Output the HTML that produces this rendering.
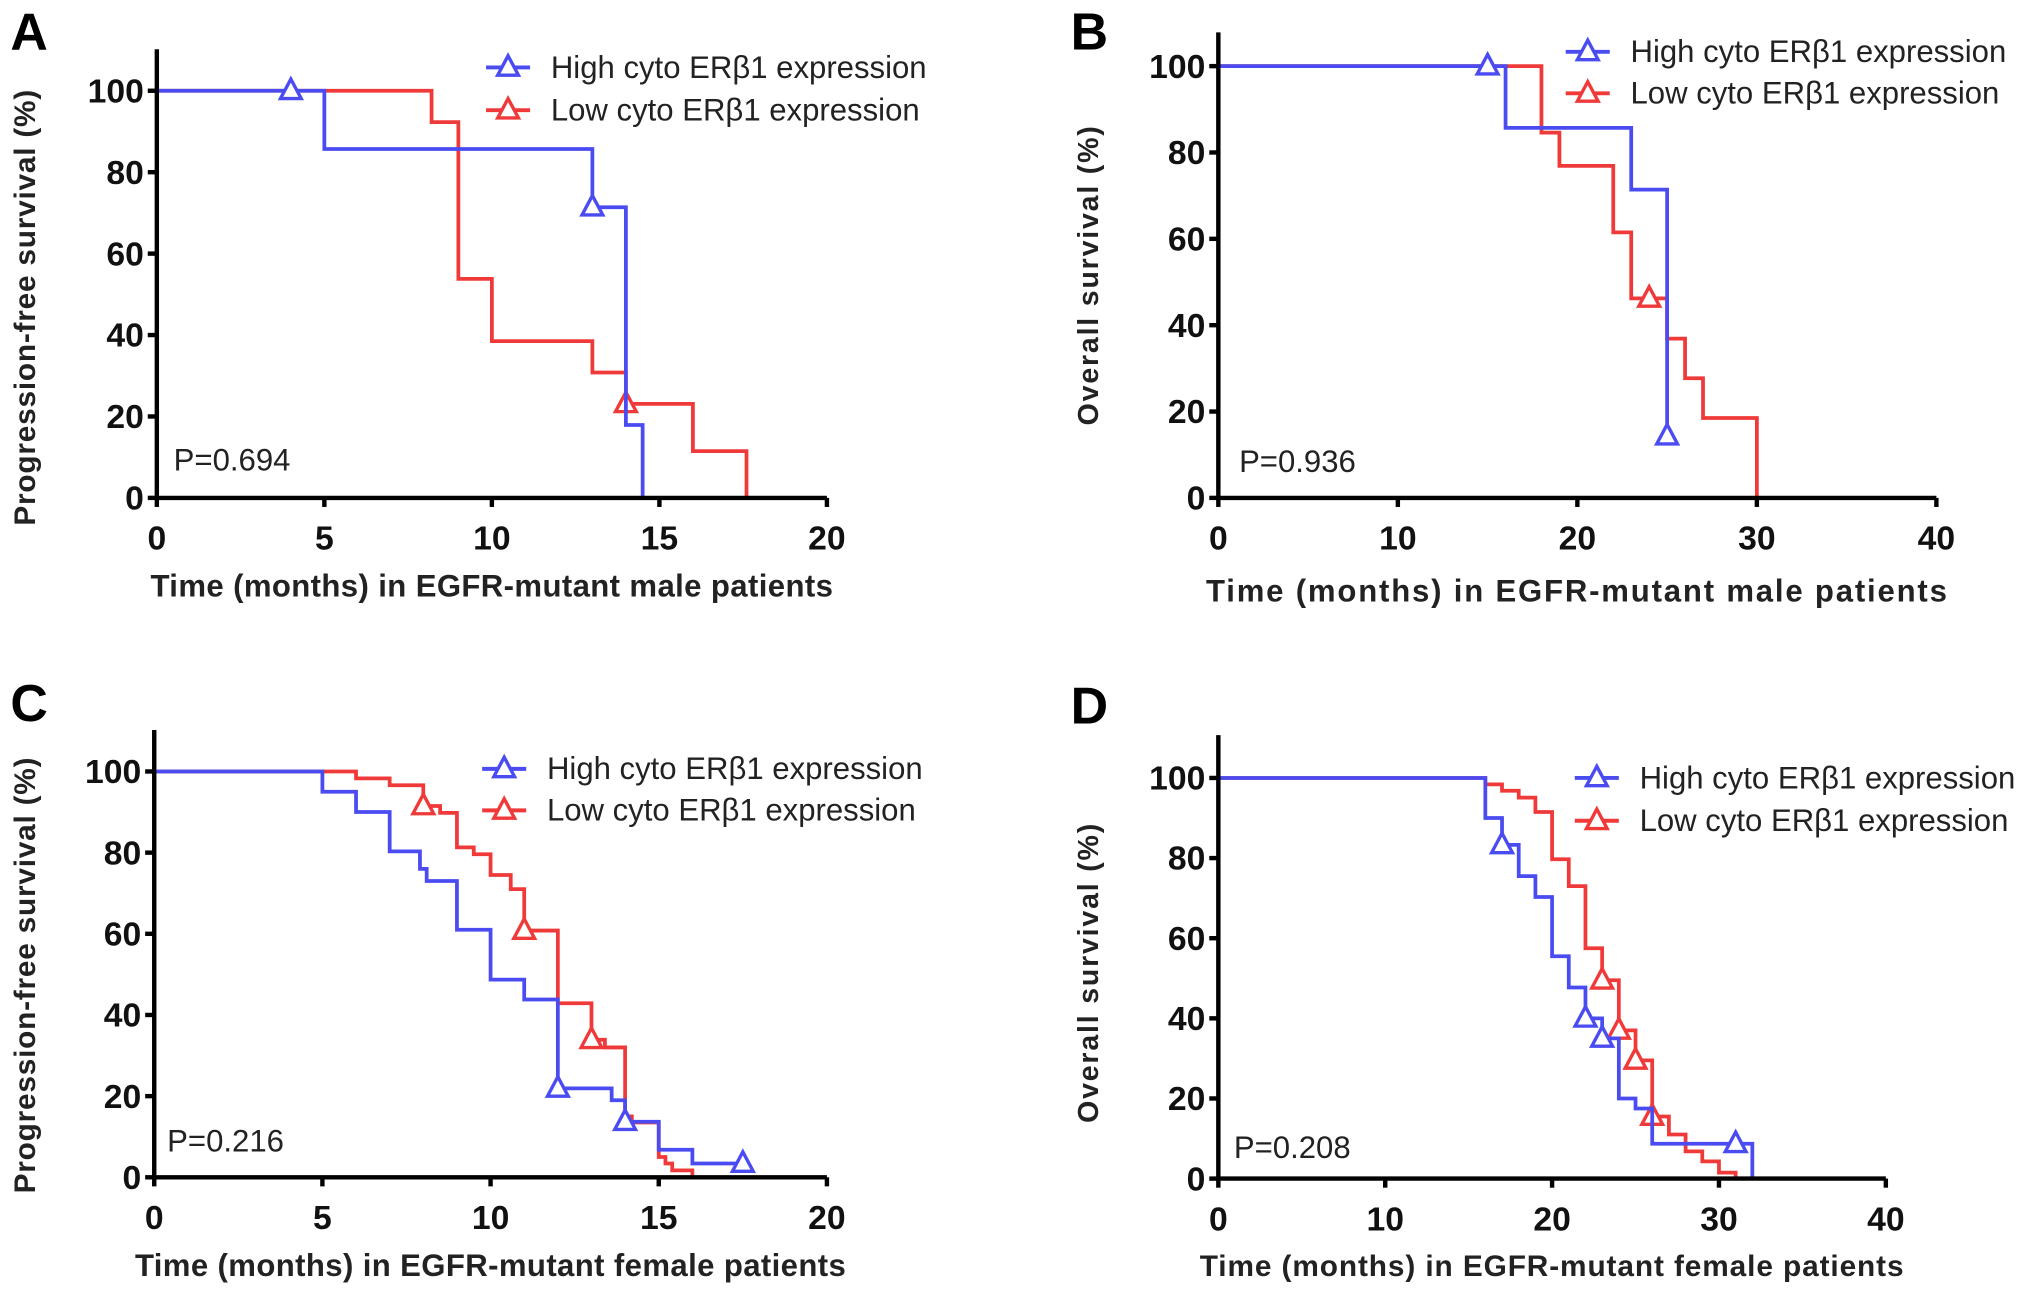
<!DOCTYPE html>
<html><head><meta charset="utf-8"><style>
html,body{margin:0;padding:0;background:#fff;}
svg{display:block;}
text{font-family:"Liberation Sans",sans-serif;}
.tick{font-family:"Liberation Sans Narrow","Liberation Sans",sans-serif;font-weight:bold;font-size:26px;fill:#111;}
.ttl{font-weight:bold;fill:#222;}
.leg{font-size:24px;fill:#222;}
.letter{font-weight:bold;font-size:40px;fill:#000;}
</style></head><body>
<svg id="fig" width="2031" height="1294" viewBox="0 0 1567 998" preserveAspectRatio="none" xmlns="http://www.w3.org/2000/svg"></svg>
<script>
// ---- Panel A data ----
const aHighT=[5,13,14,14.5], aHighS=[85.7,71.4,17.9,0], aHighEnd=14.5, aHighCT=[4,13], aHighCS=[100,71.4];
const aLowT=[8.2,9,10,13,14,16,17.6], aLowS=[92.3,53.8,38.5,30.8,23.1,11.5,0], aLowEnd=17.6, aLowCT=[14], aLowCS=[23.1];
// ---- Panel B data ----
const bHighT=[16,23,25], bHighS=[85.7,71.4,14.3], bHighEnd=25, bHighCT=[15,25], bHighCS=[100,14.3];
const bLowT=[18,19,22,23,25,26,27,30], bLowS=[84.6,76.9,61.5,46.2,36.9,27.7,18.5,0], bLowEnd=30, bLowCT=[24], bLowCS=[46.2];
// ---- Panel C data ----
const cHighT=[5,6,7,7.9,8.1,9,10,11,12,13.6,14,15,16], cHighS=[95,90,80.3,76,73,61,48.7,43.8,21.9,19,13.7,6.8,3.4], cHighEnd=17.5, cHighCT=[12,14,17.5], cHighCS=[21.9,13.7,3.4];
const cLowT=[6,7,8,8.5,9,9.5,10,10.6,11,12,13,13.4,14,14.2,15,15.2,15.4,16], cLowS=[98.3,96.6,91.5,89.8,81.3,79.6,74.5,71,60.8,42.9,33.9,32,15,13.5,5,3.4,1.7,0], cLowEnd=16, cLowCT=[8,11,13], cLowCS=[91.5,60.8,33.9];
// ---- Panel D data ----
const dHighT=[16,17,18,19,20,21,22,23,24,25,26,32], dHighS=[90,83.3,75.5,70.3,55.5,47.7,40,35,20,17.5,8.7,0], dHighEnd=32, dHighCT=[17,22,23,31], dHighCS=[83.3,40,35,8.7];
const dLowT=[16,17,18,19,20,21,22,23,24,25,26,27,28,29,30,31], dLowS=[98.4,96.8,95.1,91.5,79.7,73,57.5,49.5,37,29.5,15.5,11,6.8,4.3,1.5,0], dLowEnd=31, dLowCT=[23,24,25,26], dLowCS=[49.5,37,29.5,15.5];
// ticks
const yTicks=[0,20,40,60,80,100];
const xTicks20=[0,5,10,15,20], xTicks40=[0,10,20,30,40];

const NS="http://www.w3.org/2000/svg";
const svg=document.getElementById('fig');
function el(tag,attrs,parent){const e=document.createElementNS(NS,tag);for(const k in attrs)e.setAttribute(k,attrs[k]);(parent||svg).appendChild(e);return e;}
const BLUE="#4a4cf2", RED="#f03a3a";

function panel(cfg){
  const g=el('g',{});
  
  
  const X=v=>cfg.x0+(v-cfg.xmin)/(cfg.xmax-cfg.xmin)*(cfg.x1-cfg.x0);
  const Y=v=>cfg.y0-(v/100)*(cfg.y0-cfg.y100);
  function series(T,S,end,CT,CS,col,name){
    let d="M"+X(0)+","+Y(100);
    for(let i=0;i<T.length;i++){d+=" H"+X(T[i])+" V"+Y(S[i]);}
    d+=" H"+X(end);
    const p=el('path',{d:d,fill:'none',stroke:col,'stroke-width':2.9},g);
    
    for(let i=0;i<CT.length;i++){
      const cx=X(CT[i]),cy=Y(CS[i]);
      const t=el('path',{d:`M${cx},${cy-9} L${cx+8},${cy+6} L${cx-8},${cy+6} Z`,fill:'#fff',stroke:col,'stroke-width':2.6},g);
      
    }
  }
  series(cfg.lowT,cfg.lowS,cfg.lowEnd,cfg.lowCT,cfg.lowCS,RED,'low-expression');
  series(cfg.highT,cfg.highS,cfg.highEnd,cfg.highCT,cfg.highCS,BLUE,'high-expression');
  const ax=el('path',{d:`M${cfg.x0},${cfg.ytop} V${cfg.y0} H${cfg.x1}`,fill:'none',stroke:'#000','stroke-width':3.4},g);
  
  yTicks.forEach(v=>{
    el('line',{x1:cfg.x0-7,x2:cfg.x0,y1:Y(v),y2:Y(v),stroke:'#000','stroke-width':3.4},g);
    const t=el('text',{x:cfg.x0-10,y:Y(v)+9,class:'tick','text-anchor':'end'},g);t.textContent=v;
    
  });
  cfg.xt.forEach(v=>{
    el('line',{x1:X(v),x2:X(v),y1:cfg.y0,y2:cfg.y0+7,stroke:'#000','stroke-width':3.4},g);
    const t=el('text',{x:X(v),y:cfg.y0+40,class:'tick','text-anchor':'middle'},g);t.textContent=v;
    
  });
  const xt=el('text',{x:(cfg.x0+cfg.x1)/2+cfg.xdx,y:cfg.xty,class:'ttl','text-anchor':'middle','letter-spacing':cfg.xls,'font-size':cfg.xfs},g);xt.textContent=cfg.xtitle;
  
  const yt=el('text',{x:0,y:0,class:'ttl','text-anchor':'middle','letter-spacing':cfg.yls,'font-size':cfg.yfs,transform:`translate(${cfg.ytx},${cfg.yty}) rotate(-90)`},g);yt.textContent=cfg.ytitle;
  
  [[BLUE,'High cyto ERβ1 expression',cfg.legy[0],'legend-entry-high'],[RED,'Low cyto ERβ1 expression',cfg.legy[1],'legend-entry-low']].forEach(l=>{
    const lg=el('g',{},g);
    el('line',{x1:cfg.legx,x2:cfg.legx+34,y1:l[2],y2:l[2],stroke:l[0],'stroke-width':3},lg);
    const m=cfg.legx+17;
    el('path',{d:`M${m},${l[2]-9} L${m+8},${l[2]+6} L${m-8},${l[2]+6} Z`,fill:'#fff',stroke:l[0],'stroke-width':2.6},lg);
    const t=el('text',{x:cfg.legx+50,y:l[2]+8,class:'leg'},lg);t.textContent=l[1];
  });
  const p=el('text',{x:cfg.px,y:cfg.py,class:'leg'},g);p.textContent=cfg.ptext;
  
  const L=el('text',{x:cfg.lx,y:cfg.ly,class:'letter'},g);L.textContent=cfg.id.toUpperCase();
  
}

panel({id:'a',x0:121,x1:638,xmin:0,xmax:20,y0:384,y100:70,ytop:38,xt:xTicks20,lx:8,ly:38,
  xtitle:'Time (months) in EGFR-mutant male patients',xty:460,xls:0.3,xfs:24,xdx:0,ytitle:'Progression-free survival (%)',ytx:27,yty:237,yls:0.6,yfs:23,
  legx:375,legy:[52,85],px:134,py:363,ptext:'P=0.694',
  highT:aHighT,highS:aHighS,highEnd:aHighEnd,highCT:aHighCT,highCS:aHighCS,lowT:aLowT,lowS:aLowS,lowEnd:aLowEnd,lowCT:aLowCT,lowCS:aLowCS});
panel({id:'b',x0:940,x1:1494,xmin:0,xmax:40,y0:384,y100:51,ytop:25,xt:xTicks40,lx:826,ly:38,
  xtitle:'Time (months) in EGFR-mutant male patients',xty:464,xls:1.4,xfs:24,xdx:0,ytitle:'Overall survival (%)',ytx:847,yty:212,yls:1.4,yfs:22,
  legx:1208,legy:[40,72],px:956,py:364,ptext:'P=0.936',
  highT:bHighT,highS:bHighS,highEnd:bHighEnd,highCT:bHighCT,highCS:bHighCS,lowT:bLowT,lowS:bLowS,lowEnd:bLowEnd,lowCT:bLowCT,lowCS:bLowCS});
panel({id:'c',x0:119,x1:638,xmin:0,xmax:20,y0:908,y100:595,ytop:563,xt:xTicks20,lx:8,ly:556,
  xtitle:'Time (months) in EGFR-mutant female patients',xty:984,xls:0.3,xfs:24,xdx:0,ytitle:'Progression-free survival (%)',ytx:27,yty:752,yls:0.6,yfs:23,
  legx:372,legy:[593,625],px:129,py:888,ptext:'P=0.216',
  highT:cHighT,highS:cHighS,highEnd:cHighEnd,highCT:cHighCT,highCS:cHighCS,lowT:cLowT,lowS:cLowS,lowEnd:cLowEnd,lowCT:cLowCT,lowCS:cLowCS});
panel({id:'d',x0:940,x1:1455,xmin:0,xmax:40,y0:909,y100:600,ytop:567,xt:xTicks40,lx:826,ly:558,
  xtitle:'Time (months) in EGFR-mutant female patients',xty:984,xls:0.7,xfs:23,xdx:0,ytitle:'Overall survival (%)',ytx:847,yty:750,yls:1.4,yfs:22,
  legx:1215,legy:[600,633],px:952,py:893,ptext:'P=0.208',
  highT:dHighT,highS:dHighS,highEnd:dHighEnd,highCT:dHighCT,highCS:dHighCS,lowT:dLowT,lowS:dLowS,lowEnd:dLowEnd,lowCT:dLowCT,lowCS:dLowCS});
</script>
</body></html>
